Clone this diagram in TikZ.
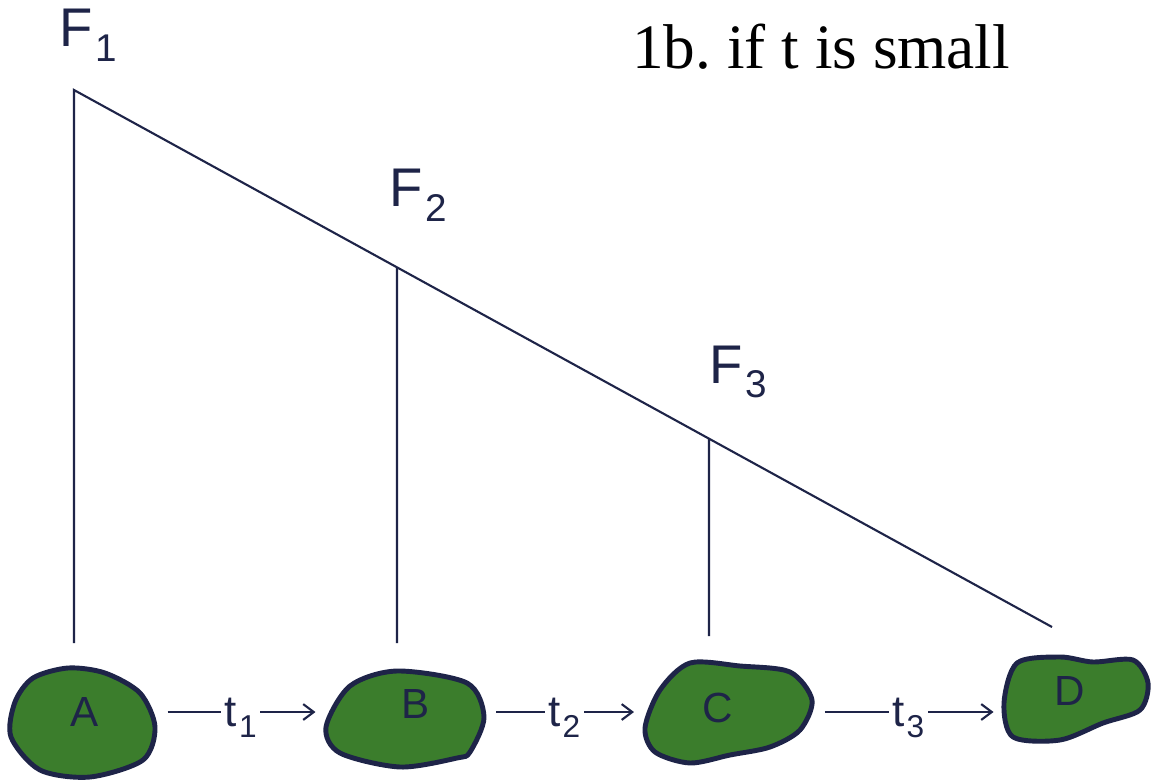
\documentclass[tikz,border=0pt]{standalone}
\usepackage{fontspec}
\setmainfont{Liberation Serif}
\newfontfamily\arialfont{Liberation Sans}
\usepackage{tikz}
\usetikzlibrary{positioning,arrows.meta,shapes.geometric,calc}
\usepackage{xcolor}
\definecolor{inkNavy}{HTML}{1E2448}
\definecolor{blobGreen}{HTML}{3B7D2C}
\newcommand{\fsub}[1]{\kern1.5pt\smash{\raisebox{-8pt}{\fontsize{22pt}{22pt}\selectfont #1}}}
\newcommand{\tsub}[1]{\kern1.2pt\smash{\raisebox{-6.5pt}{\fontsize{18pt}{18pt}\selectfont #1}}}

\begin{document}
\begin{tikzpicture}[x=0.02cm, y=-0.02cm,
    lineStyle/.style={draw=inkNavy, line width=1.2pt},
    blobNode/.style={ellipse, inner sep=0pt, minimum height=52pt},
    blobLine/.style={draw=inkNavy, fill=blobGreen, line width=2.8pt, line join=round},
    blobText/.style={font=\arialfont\fontsize{24pt}{26pt}\selectfont, text=inkNavy, inner sep=0pt},
    fLabel/.style={anchor=base west, inner sep=0pt, font=\arialfont\fontsize{31pt}{33pt}\selectfont, text=inkNavy},
    tLabel/.style={fill=white, inner xsep=2pt, inner ysep=0pt, font=\arialfont\fontsize{25pt}{27pt}\selectfont, text=inkNavy},
    arrowStyle/.style={-{Straight Barb[length=6pt, width=9pt]}, draw=inkNavy, line width=1.2pt, shorten <=6.5pt, shorten >=5.5pt}
]
    \fill[white] (0,0) rectangle (1151,780);
    \useasboundingbox (0,0) rectangle (1151,780);

    \node[anchor=base west, inner sep=0pt, font=\fontsize{36pt}{40pt}\selectfont] (title) at (632,69) {1b.\ if t is small};

    \node[fLabel] (f1) at (59,47) {F\fsub{1}};
    \node[fLabel] (f2) at (389,207) {F\fsub{2}};
    \node[fLabel] (f3) at (709,383) {F\fsub{3}};

    \coordinate (apex) at (74,90);
    \coordinate (tail) at (1052,627);
    \coordinate (footA) at (74,643);
    \coordinate (footB) at (397,643);
    \coordinate (footC) at (709,636);
    \coordinate (topB) at ($(apex)!0.3303!(tail)$);
    \coordinate (topC) at ($(apex)!0.6493!(tail)$);

    \draw[lineStyle, line join=miter] (footA) -- (apex) -- (tail);
    \draw[lineStyle] (topB) -- (footB);
    \draw[lineStyle] (topC) -- (footC);

    \node[blobNode, minimum width=84.2pt] (A) at (82,712) {};
    \node[blobNode, minimum width=90.5pt] (B) at (405,712) {};
    \node[blobNode, minimum width=96.2pt] (C) at (728.5,712) {};
    \node[blobNode, minimum width=79.1pt] (D) at (1073,712) {};

    \draw[blobLine] plot[smooth cycle] coordinates {(33,678) (68,668) (105,673) (140,693) (155,727) (143,760) (90,777) (40,770) (11,737) (15,702)};
    \draw[blobLine] plot[smooth cycle] coordinates {(350,686) (397,671) (467,683) (484,717) (470,752) (457,758) (400,767) (340,753) (326,727)};
    \draw[blobLine] plot[smooth cycle] coordinates {(690,663) (740,666) (790,672) (812,700) (800,730) (770,747) (730,755) (690,763) (655,752) (645,728) (660,690)};
    \draw[blobLine] plot[smooth cycle] coordinates {(1017,663) (1060,657) (1093,662) (1133,660) (1148,683) (1140,710) (1103,723) (1060,740) (1013,737) (1004,703)};

    \node[blobText] (la) at (85,712) {A};
    \node[blobText] (lb) at (416,704) {B};
    \node[blobText] (lc) at (718,708) {C};
    \node[blobText] (ld) at (1070,691) {D};

    \draw[arrowStyle] (A.east) -- node[tLabel] {t\tsub{1}} (B.west);
    \draw[arrowStyle] (B.east) -- node[tLabel] {t\tsub{2}} (C.west);
    \draw[arrowStyle] (C.east) -- node[tLabel] {t\tsub{3}} (D.west);
\end{tikzpicture}
\end{document}
